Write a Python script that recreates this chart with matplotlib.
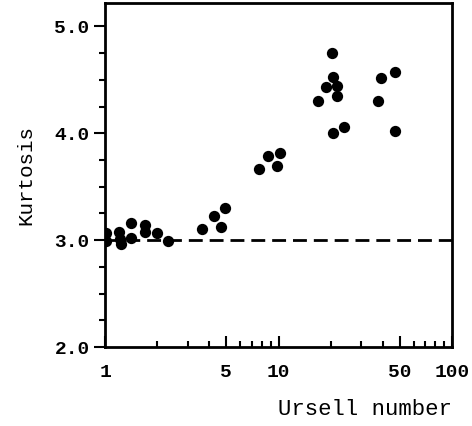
import matplotlib
matplotlib.use('Agg')
import matplotlib.pyplot as plt
from matplotlib.ticker import FixedLocator, NullFormatter
import numpy as np

# data
ursell = [1.01, 1.01, 1.20, 1.22, 1.23, 1.41, 1.41, 1.69, 1.69, 2.00, 2.30,
          3.60, 4.27, 4.69, 4.90,
          7.74, 8.68, 9.80, 10.2,
          17.0, 18.8, 20.3, 20.5, 21.7, 21.7, 20.5, 23.7,
          37.4, 39.1, 46.7, 47.1]
kurtosis = [3.065, 2.99, 3.075, 3.01, 2.96, 3.16, 3.025, 3.14, 3.08, 3.065, 2.99,
            3.105, 3.23, 3.12, 3.30,
            3.67, 3.79, 3.695, 3.82,
            4.305, 4.43, 4.75, 4.53, 4.445, 4.35, 4.006, 4.06,
            4.305, 4.52, 4.576, 4.025]
gauss_k = 3.0
xticks = [1, 5, 10, 50, 100]
yticks = [2.0, 3.0, 4.0, 5.0]

mono = 'Liberation Mono'

fig = plt.figure(figsize=(4.72, 4.26), dpi=100)
ax = fig.add_axes([0.2225, 0.1854, 0.7351, 0.8076])

ax.scatter(ursell, kurtosis, s=66, color='black', zorder=3, linewidths=0)
ax.plot([1, 100], [gauss_k, gauss_k], color='black', lw=2, dashes=(5, 2.5))

ax.set_xscale('log')
ax.set_xlim(1, 100)
ax.set_ylim(2.0, 5.22)

ax.xaxis.set_major_locator(FixedLocator(xticks))
ax.set_xticklabels([str(t) for t in xticks])
minor_x = [v * d for d in (1, 10) for v in range(2, 10) if v * d not in xticks]
ax.xaxis.set_minor_locator(FixedLocator(minor_x))
ax.xaxis.set_minor_formatter(NullFormatter())

ax.yaxis.set_major_locator(FixedLocator(yticks))
ax.set_yticklabels(['%.1f' % t for t in yticks])
ax.yaxis.set_minor_locator(FixedLocator(np.arange(2.0, 5.01, 0.25)))

ax.tick_params(axis='x', which='major', direction='in', length=8, width=1.5, pad=12)
ax.tick_params(axis='x', which='minor', direction='in', length=4, width=1.5)
ax.tick_params(axis='y', which='major', direction='out', length=8, width=1.5, pad=3)
ax.tick_params(axis='y', which='minor', direction='out', length=4, width=1.5)

for lab in ax.get_xticklabels() + ax.get_yticklabels():
    lab.set_fontfamily(mono)
    lab.set_fontsize(14)
    lab.set_fontweight('bold')

for sp in ax.spines.values():
    sp.set_linewidth(2)

ax.set_ylabel('Kurtosis', fontfamily=mono, fontsize=15, labelpad=14)
fig.text(0.9576, 0.025, 'Ursell number', fontfamily=mono, fontsize=16,
         ha='right', va='baseline')

fig.savefig('out.png', dpi=100)
